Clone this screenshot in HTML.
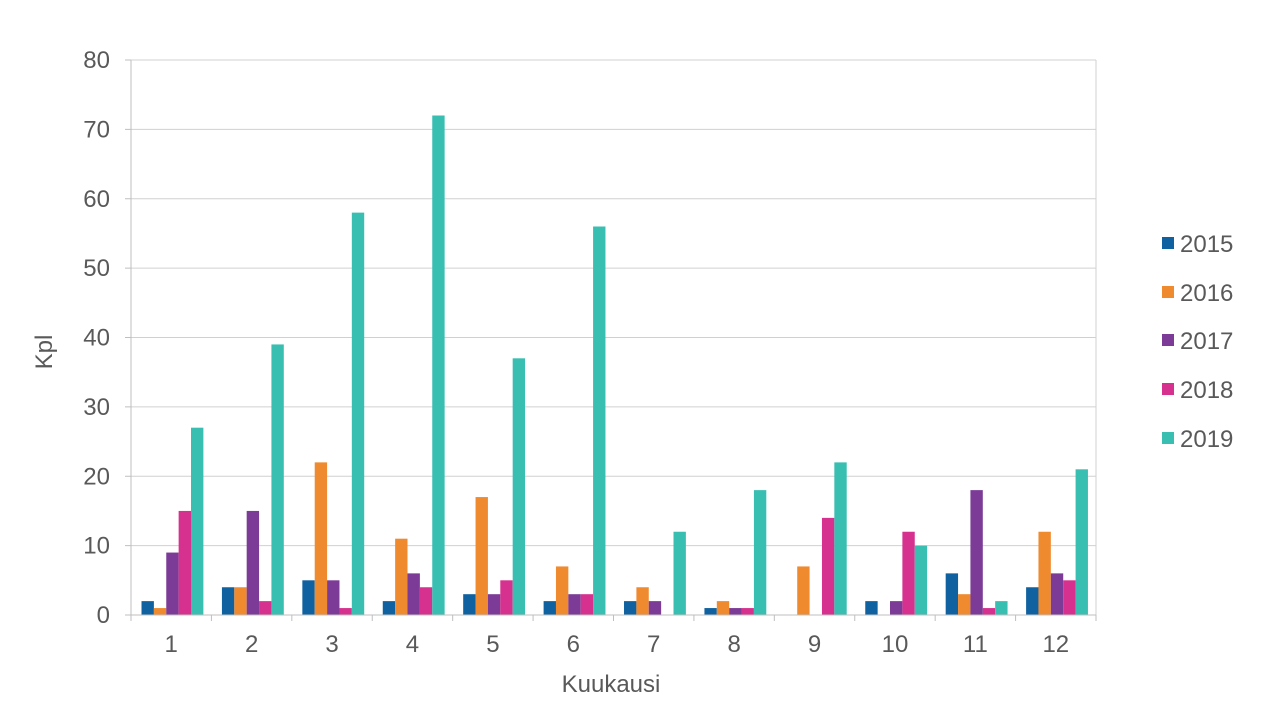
<!DOCTYPE html>
<html><head><meta charset="utf-8"><style>body{margin:0;background:#fff}svg{display:block;font-family:"Liberation Sans",Arial,sans-serif}</style></head>
<body>
<svg width="1280" height="720" viewBox="0 0 1280 720" xmlns="http://www.w3.org/2000/svg">
<rect width="1280" height="720" fill="#fff"/>
<g id="grid" stroke="#d0d0d0" stroke-width="1"></g>
<g id="bars"></g>
<g id="axes"></g>
<g id="txt" fill="#595959" font-size="24"></g>
<script>
var ns="http://www.w3.org/2000/svg";
function el(p,t,a,txt){var e=document.createElementNS(ns,t);for(var k in a)e.setAttribute(k,a[k]);if(txt!=null)e.textContent=txt;document.getElementById(p).appendChild(e);return e;}
var L=131,R=1096,T=60,B=615,s=(B-T)/80,gw=(R-L)/12,bw=gw/6.5;
for(var v=0;v<=80;v+=10){var y=B-v*s;if(v>0)el("grid","line",{x1:L,x2:R,y1:y,y2:y});el("txt","text",{x:110,y:y+8,"text-anchor":"end"},v);}
el("grid","line",{x1:R,x2:R,y1:T,y2:B});
var c=["#10619f","#ef8a2f","#7b3b96","#d6318e","#38bfb2"];
var d=[[2,1,9,15,27],[4,4,15,2,39],[5,22,5,1,58],[2,11,6,4,72],[3,17,3,5,37],[2,7,3,3,56],[2,4,2,0,12],[1,2,1,1,18],[0,7,0,14,22],[2,0,2,12,10],[6,3,18,1,2],[4,12,6,5,21]];
for(var i=0;i<12;i++){var x0=L+i*gw+bw*0.85;for(var j=0;j<5;j++){var h=d[i][j]*s;el("bars","rect",{x:x0+j*bw,y:B-h,width:bw,height:h,fill:c[j]});}
el("txt","text",{x:L+(i+0.5)*gw,y:652,"text-anchor":"middle"},i+1);}
el("axes","line",{x1:L,x2:L,y1:T,y2:B,stroke:"#bfbfbf"});
el("axes","line",{x1:L-6,x2:R,y1:B,y2:B,stroke:"#bfbfbf"});
for(var v=0;v<=80;v+=10)el("axes","line",{x1:L-6,x2:L,y1:B-v*s,y2:B-v*s,stroke:"#bfbfbf"});
for(var i=0;i<=12;i++)el("axes","line",{x1:L+i*gw,x2:L+i*gw,y1:B,y2:B+6,stroke:"#bfbfbf"});
el("txt","text",{x:611,y:692,"text-anchor":"middle"},"Kuukausi");
el("txt","text",{x:52,y:352,"text-anchor":"middle",transform:"rotate(-90 52 352)"},"Kpl");
var yrs=[2015,2016,2017,2018,2019],ly=[244,293,341,390,439];
for(var j=0;j<5;j++){el("bars","rect",{x:1162,y:ly[j]-7,width:12,height:12,fill:c[j]});el("txt","text",{x:1180,y:ly[j]+8},yrs[j]);}
</script>
</svg>
</body></html>
